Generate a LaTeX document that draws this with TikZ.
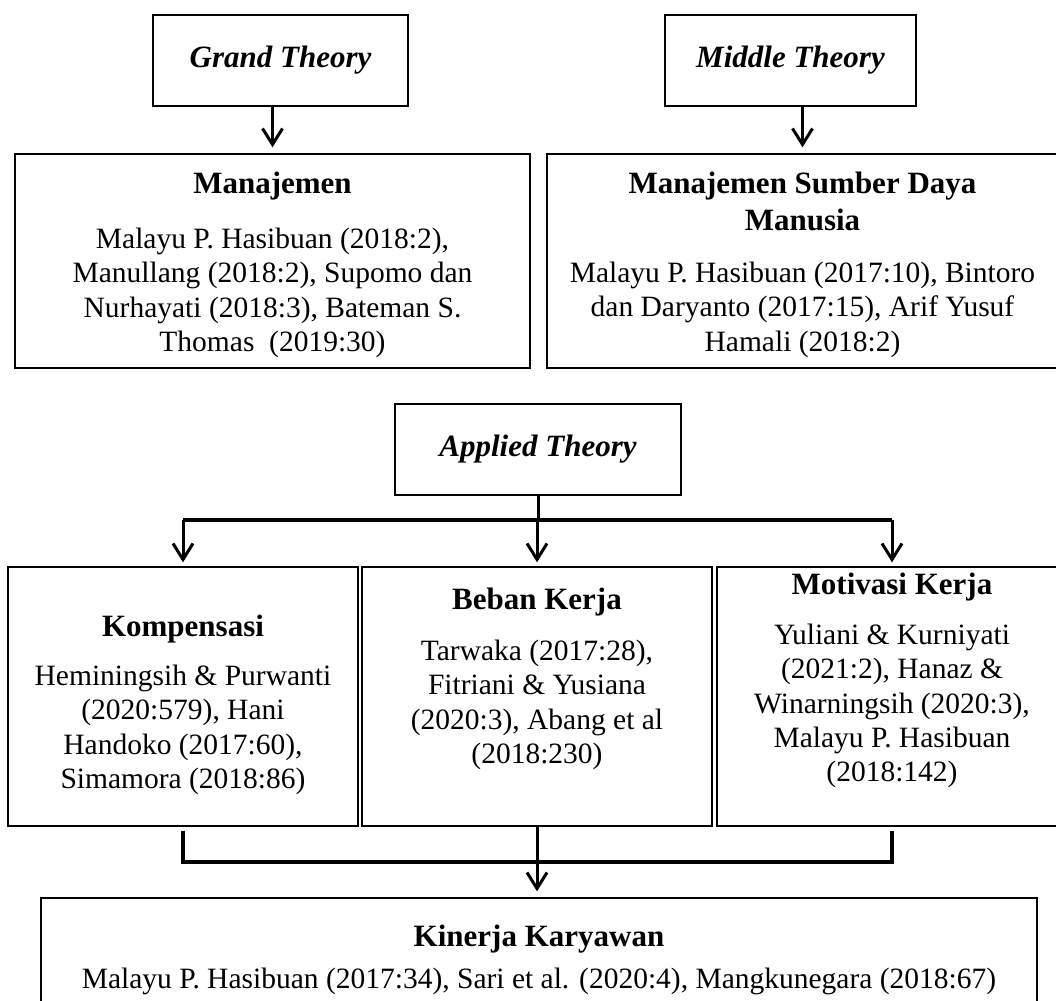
\documentclass[tikz,border=0pt]{standalone}
\usepackage{fontspec}
\setmainfont{Liberation Serif}
\usetikzlibrary{arrows.meta,positioning}

\tikzset{
    frame/.style={draw, line width=0.7pt, inner sep=0pt},
    theory/.style={frame, font=\fontsize{15.5}{18}\selectfont\bfseries\itshape},
    txt/.style={inner sep=0pt, align=center, font=\fontsize{14.75}{17.2}\selectfont},
    link/.style={line width=1.5pt, -{Straight Barb[length=8pt,width=10pt]}, shorten >=3pt},
}
\newcommand{\ttl}[1]{{\fontsize{15.5}{18.5}\selectfont\bfseries #1}}

\begin{document}
\begin{tikzpicture}[x=0.5pt, y=-0.5pt]
            \useasboundingbox (0, 0) rectangle (1056, 1001);
            \node[theory, minimum width=127.5pt, minimum height=45.5pt] (grand) at (280.5, 60.5) {Grand Theory};
            \node[theory, minimum width=125.5pt, minimum height=45.5pt] (middle) at (790.5, 60.5) {Middle Theory};
            \node[frame, minimum width=257.5pt, minimum height=107pt] (man) at (272.5, 261) {};
            \node[txt, below=9pt of man.north] (mantxt) {\ttl{Manajemen}\\[10.3pt]
                Malayu P. Hasibuan (2018:2),\\ Manullang (2018:2), Supomo dan\\
                Nurhayati (2018:3), Bateman S.\\ Thomas\ \ (2019:30)};
            \node[frame, minimum width=255.5pt, minimum height=107pt] (msdm) at (802.5, 261) {};
            \node[txt, below=9pt of msdm.north] (msdmtxt) {\ttl{Manajemen Sumber Daya}\\[1.3pt]\ttl{Manusia}\\[8.8pt]
                Malayu P. Hasibuan (2017:10), Bintoro\\ dan Daryanto (2017:15), Arif Yusuf\\ Hamali (2018:2)};
            \draw[link] (grand.south -| man.north) -- (man.north);
            \draw[link] (middle.south -| msdm.north) -- (msdm.north);

            \node[theory, minimum width=143pt, minimum height=45.5pt] (applied) at (538, 449.5) {Applied Theory};
            \node[frame, minimum width=175pt, minimum height=129.5pt] (kom) at (183, 696.5) {};
            \node[txt, below=24pt of kom.north] (komtxt) {\ttl{Kompensasi}\\[7.3pt]
                Heminingsih \& Purwanti\\ (2020:579), Hani\\ Handoko (2017:60),\\ Simamora (2018:86)};
            \node[frame, minimum width=175pt, minimum height=129.5pt] (beban) at (537, 696.5) {};
            \node[txt, below=10.5pt of beban.north] (bebantxt) {\ttl{Beban Kerja}\\[8.3pt]
                Tarwaka (2017:28),\\ Fitriani \& Yusiana\\ (2020:3), Abang et al\\ (2018:230)};
            \node[frame, minimum width=175pt, minimum height=129.5pt] (mot) at (892, 696.5) {};
            \node[txt, below=3pt of mot.north] (mottxt) {\ttl{Motivasi Kerja}\\[7.8pt]
                Yuliani \& Kurniyati\\ (2021:2), Hanaz \&\\ Winarningsih (2020:3),\\ Malayu P. Hasibuan\\ (2018:142)};
            \coordinate (bus) at (538, 520);
            \draw[line width=1.5pt] (applied.south) -- (bus);
            \draw[line width=2.2pt] (kom.north |- bus) -- (mot.north |- bus);
            \foreach \b in {kom, beban, mot}
                \draw[link, shorten >=2pt] (\b.north |- bus) -- (\b.north);

            \node[frame, minimum width=498pt, minimum height=57pt] (kin) at (539, 955) {};
            \node[txt, below=13.5pt of kin.north] (kintxt) {\ttl{Kinerja Karyawan}\\[3.8pt]
                Malayu P. Hasibuan (2017:34), Sari et al. (2020:4), Mangkunegara (2018:67)};
            \coordinate (join) at (539, 862);
            \draw[line width=1.6pt, shorten <=2pt, shorten >=2pt] (kom.south) |- (join) -| (mot.south);
            \draw[link] (beban.south) -- (beban.south |- kin.north);
\end{tikzpicture}
\end{document}
